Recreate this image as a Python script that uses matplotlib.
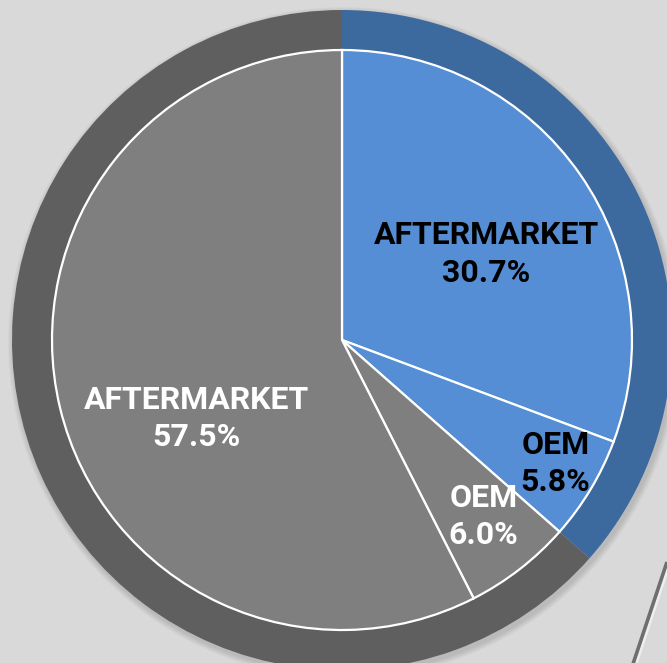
import numpy as np
import matplotlib.pyplot as plt

# Dados
rotulos = ['AFTERMARKET', 'OEM', 'OEM', 'AFTERMARKET']
valores = [30.7, 5.8, 6.0, 57.5]
grupos = ['blue', 'blue', 'gray', 'gray']

cor_interna = {'blue': '#558ed5', 'gray': '#7f7f7f'}
cor_externa = {'blue': '#3d6a9e', 'gray': '#5f5f5f'}
cor_texto = {'blue': 'black', 'gray': 'white'}

# anel externo = soma por grupo
ext_valores = [sum(v for v, g in zip(valores, grupos) if g == k) for k in ['blue', 'gray']]

plt.rcParams['font.family'] = ['Roboto', 'DejaVu Sans']

fig = plt.figure(figsize=(6.67, 6.63), dpi=100)
fig.patch.set_facecolor('#d9d9d9')
ax = fig.add_axes([0, 0, 1, 1])
ax.set_facecolor('#d9d9d9')

centro = (342, 323)

# sombra leve do anel externo
for i in range(6):
    ax.add_patch(plt.Circle((centro[0] + 2, centro[1] - 3), 331 + i, color='black',
                            alpha=0.025, lw=0, zorder=0))

ax.pie(ext_valores, colors=[cor_externa['blue'], cor_externa['gray']], radius=330,
       center=centro, startangle=90, counterclock=False,
       wedgeprops=dict(linewidth=0), frame=True)

wedges, _ = ax.pie(valores, colors=[cor_interna[g] for g in grupos], radius=290,
                   center=centro, startangle=90, counterclock=False,
                   wedgeprops=dict(edgecolor='white', linewidth=1.6), frame=True)

ax.set_xlim(0, 667)
ax.set_ylim(0, 663)
ax.set_aspect('equal')
ax.axis('off')

# posição dos rótulos (fração do raio, ajuste de ângulo)
dist_rotulo = [0.58, 0.85, 0.78, 0.57]
ajuste_ang = [-4, 1, 1, 15]

for w, nome, v, g, d, a in zip(wedges, rotulos, valores, grupos, dist_rotulo, ajuste_ang):
    ang = np.deg2rad((w.theta1 + w.theta2) / 2 + a)
    x = centro[0] + 290 * d * np.cos(ang)
    y = centro[1] + 290 * d * np.sin(ang)
    ax.text(x, y, f'{nome}\n{v:.1f}%', ha='center', va='center', fontsize=23,
            fontweight='bold', color=cor_texto[g], linespacing=1.3)

# linha decorativa no canto inferior direito
ax.plot([669, 635], [100, -2], color='white', lw=3, alpha=0.6, solid_capstyle='butt')
ax.plot([667, 633], [101, -1], color='#6f6f6f', lw=2.6, solid_capstyle='butt')

fig.savefig('out.png', dpi=100, facecolor=fig.get_facecolor())
